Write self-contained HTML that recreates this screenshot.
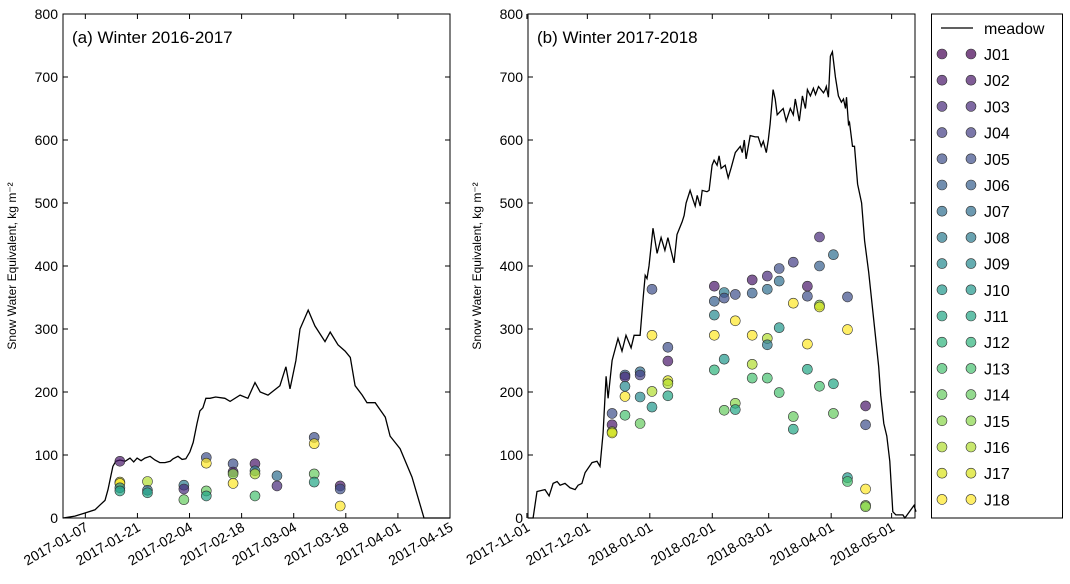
<!DOCTYPE html>
<html><head><meta charset="utf-8">
<style>
body{margin:0;background:#fff;width:1070px;height:584px;overflow:hidden;font-family:"Liberation Sans",sans-serif}
svg{display:block}
text{font-family:"Liberation Sans",sans-serif}
</style></head>
<body>
<svg id="chart" width="1070" height="584" viewBox="0 0 1070 584"></svg>
<script>
// ---- data ----
const stations=["J01","J02","J03","J04","J05","J06","J07","J08","J09","J10","J11","J12","J13","J14","J15","J16","J17","J18"];
const viridis=["#440154","#481769","#472a7a","#433d84","#3d4e8a","#355e8d","#2e6d8e","#297b8e","#23898e","#1f978b","#21a585","#2eb37c","#46c06f","#65cb5e","#89d548","#b0dd2f","#d8e219","#fde725"];
const yTicks=[0,100,200,300,400,500,600,700,800];
// Panel a: days since 2017-01-01
const aTickDays=[6,20,34,48,62,76,90,104];
const aTickLabels=["2017-01-07","2017-01-21","2017-02-04","2017-02-18","2017-03-04","2017-03-18","2017-04-01","2017-04-15"];
const aLineDay=[0,3.2,5.9,8.6,10,11.3,12.1,12.9,13.4,14.2,15.3,16.7,18,19,19.9,21,22,23.4,24.7,26,27.4,28.8,29.6,30.9,32,33,34.1,35,36,36.8,37.6,38.4,39.5,41,43.5,44.9,47.6,49.7,51.6,53,55.1,58.3,59.9,61,62.6,63.7,65.9,67.7,70.4,71.8,73.9,75.8,77.2,78.5,80.4,81.7,83.9,86.6,87.9,90.6,93.8,97,104];
const aLineVal=[0,3,8,13,21,28,45,68,82,90,92,90,95,89,95,91,95,98,92,88,88,90,94,98,93,94,105,120,150,170,175,190,190,192,190,185,195,190,215,200,195,210,240,205,250,300,330,305,280,295,275,265,255,210,195,183,183,160,130,110,65,0,0];
const aObsDay=[15.3,15.3,15.3,15.3,15.3,22.7,22.7,22.7,32.5,32.5,32.5,38.5,38.5,38.5,38.5,45.7,45.7,45.7,45.7,51.6,51.6,51.6,51.6,57.5,57.5,67.5,67.5,67.5,67.5,74.5,74.5,74.5];
const aObsVal=[90,57,55,48,43,58,44,40,52,46,29,96,87,43,35,86,73,70,55,86,75,70,35,67,51,128,118,70,57,51,46,19];
const aObsSta=[1,16,17,8,10,15,6,10,7,2,13,4,17,13,10,4,1,14,17,1,7,15,12,6,2,4,17,13,10,1,4,17];
// Panel b: days since 2017-11-01
const bTickDays=[0,30,61,92,120,151,181];
const bTickLabels=["2017-11-01","2017-12-01","2018-01-01","2018-02-01","2018-03-01","2018-04-01","2018-05-01"];
const bLineDay=[0.6,3.1,5,9,11,13,15,16.5,18.9,21.4,23.9,25.4,27.3,28.9,32.3,34.8,36.3,37.8,39.3,40.3,42.3,45.2,47.2,49.2,51.7,53.2,56.2,57.7,58.7,59.6,60.6,62.6,64.6,66.6,68.5,70,73,74.5,77,78,79,81,82.5,83.5,84.5,86,87,89.4,90.4,91.9,92.9,94.4,95.4,96.4,98.4,99.9,101.4,103.4,105.9,106.9,107.9,108.8,110.8,113.3,114.8,115.8,116.3,117.3,118.8,119.8,120.7,122.2,123.2,124.2,125.7,127.2,128.7,130.7,132.2,133.2,135.2,136.7,138.2,139.2,140.7,142.2,143.2,144.7,147.2,148.1,148.6,149.6,150.6,151.6,153.1,154.6,156.1,157.1,158.1,158.6,159.6,160.1,161.6,162.6,164.1,166.1,167.6,169.6,172.6,174.6,175.6,177.1,178.6,180.1,181.6,183.1,186.6,187.6,192.1,193.1];
const bLineVal=[0,0,42,45,35,55,58,52,55,48,45,52,55,72,88,90,82,135,225,190,250,285,265,290,270,290,290,350,385,380,400,460,420,445,425,445,405,450,470,480,500,520,505,495,512,495,520,518,520,560,568,560,575,555,560,540,556,580,590,580,600,570,607,605,605,595,590,598,580,600,625,680,665,640,645,650,630,650,640,665,630,670,650,680,670,682,672,685,675,680,685,668,733,740,700,670,660,665,650,668,625,628,590,590,530,500,440,390,300,240,195,150,130,90,10,5,5,0,20,10];
const bObsDay=[42.3,42.3,42.3,42.3,48.7,48.7,48.7,48.7,48.7,56.2,56.2,56.2,56.2,62.1,62.1,62.1,62.1,70,70,70,70,70,93,93,93,93,93,97.9,97.9,97.9,97.9,103.4,103.4,103.4,103.4,111.8,111.8,111.8,111.8,111.8,119.3,119.3,119.3,119.3,119.3,125.2,125.2,125.2,125.2,132.2,132.2,132.2,132.2,139.2,139.2,139.2,139.2,145.2,145.2,145.2,145.2,145.2,152.1,152.1,152.1,159.1,159.1,159.1,159.1,168.1,168.1,168.1,168.1,168.1];
const bObsVal=[166,148,137,135,227,224,209,193,163,232,227,192,150,363,290,201,176,271,249,218,213,194,368,344,322,290,235,358,349,252,171,355,313,182,172,378,357,290,244,222,384,363,285,275,222,396,376,302,199,406,341,161,141,368,352,276,236,446,400,338,335,209,418,213,166,351,299,64,58,178,148,46,20,18];
const bObsSta=[4,1,15,16,5,2,8,17,12,6,3,8,13,4,17,15,9,4,1,16,15,10,1,5,8,17,11,7,4,9,13,4,17,14,10,1,5,17,15,12,2,6,15,7,12,4,6,9,12,3,17,13,10,1,4,17,10,2,5,14,16,12,6,10,13,4,17,9,12,1,4,17,14,14];

// ---- drawing ----
const NS="http://www.w3.org/2000/svg";
const svg=document.getElementById('chart');
function mk(tag,attrs,parent){const e=document.createElementNS(NS,tag);for(const k in attrs)e.setAttribute(k,attrs[k]);(parent||svg).appendChild(e);return e;}
const TOP=14,BOT=518;
function yScale(v){return BOT-(v/800)*(BOT-TOP);}

function panel(id,L,R,dmin,dmax,tickDays,tickLabels,lineDay,lineVal,obsDay,obsVal,obsSta,title){
  const g=mk('g',{});
  
  
  const xs=d=>L+(d-dmin)/(dmax-dmin)*(R-L);
  let p='';
  lineDay.forEach((d,i)=>{p+=(i?'L':'M')+xs(d).toFixed(1)+','+yScale(lineVal[i]).toFixed(1);});
  const ln=mk('path',{d:p,fill:'none',stroke:'#000','stroke-width':1.3},g);
  
  
  obsDay.forEach((d,i)=>{
    const c=mk('circle',{cx:xs(d).toFixed(1),cy:yScale(obsVal[i]).toFixed(1),r:5,fill:viridis[obsSta[i]],'fill-opacity':0.7,stroke:'#333','stroke-width':0.6},g);
    
    
  });
  const fr=mk('rect',{x:L,y:TOP,width:R-L,height:BOT-TOP,fill:'none',stroke:'#000','stroke-width':1},g);
  
  
  yTicks.forEach(v=>{
    const y=yScale(v);
    mk('line',{x1:L,x2:L+5,y1:y,y2:y,stroke:'#000'},g);
    mk('line',{x1:R-5,x2:R,y1:y,y2:y,stroke:'#000'},g);
    const t=mk('text',{x:L-5,y:y+5,'text-anchor':'end','font-size':14},g);
    t.textContent=v;
    
    
  });
  tickDays.forEach((d,i)=>{
    const x=xs(d);
    mk('line',{x1:x,x2:x,y1:BOT,y2:BOT-5,stroke:'#000'},g);
    mk('line',{x1:x,x2:x,y1:TOP,y2:TOP+5,stroke:'#000'},g);
    const t=mk('text',{x:x+4,y:BOT+12,'text-anchor':'end','font-size':14,transform:'rotate(-30 '+(x+4)+' '+(BOT+12)+')'},g);
    t.textContent=tickLabels[i];
    
    
  });
  const tt=mk('text',{x:L+9,y:43,'font-size':17},g);
  tt.textContent=title;
  
  
  const yl=mk('text',{x:0,y:0,'font-size':12,'text-anchor':'middle',transform:'translate('+(L-47)+',266) rotate(-90)'},g);
  yl.textContent='Snow Water Equivalent, kg m\u207B\u00B2';
  
  
}
panel('panel-a',63,450,0,104,aTickDays,aTickLabels,aLineDay,aLineVal,aObsDay,aObsVal,aObsSta,'(a) Winter 2016-2017');
panel('panel-b',528,915,0.55,192.6,bTickDays,bTickLabels,bLineDay,bLineVal,bObsDay,bObsVal,bObsSta,'(b) Winter 2017-2018');

const lg=mk('g',{});


mk('rect',{x:931.5,y:14,width:131,height:504,fill:'#fff',stroke:'#000'},lg);
mk('line',{x1:941,x2:973,y1:28,y2:28,stroke:'#000','stroke-width':1.3},lg);
const mt=mk('text',{x:984,y:34,'font-size':16},lg);
mt.textContent='meadow';


stations.forEach((s,i)=>{
  const y=54+i*26.2;
  mk('circle',{cx:942,cy:y,r:5,fill:viridis[i],'fill-opacity':0.7,stroke:'#333','stroke-width':0.6},lg);
  mk('circle',{cx:971,cy:y,r:5,fill:viridis[i],'fill-opacity':0.7,stroke:'#333','stroke-width':0.6},lg);
  const t=mk('text',{x:984,y:y+6,'font-size':16},lg);
  t.textContent=s;
  
  
});
</script>
</body></html>
